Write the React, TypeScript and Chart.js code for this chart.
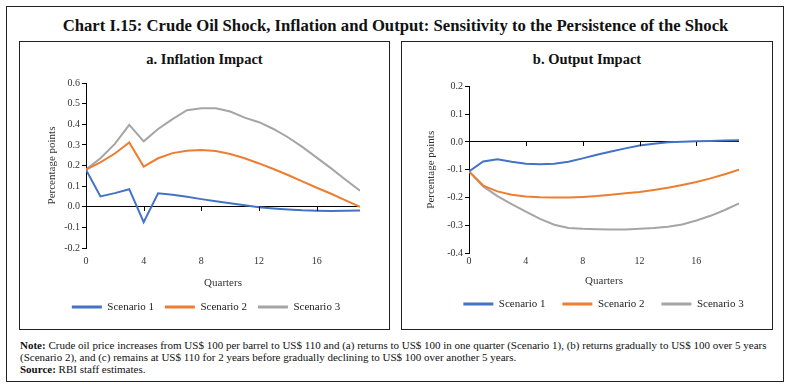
import React, { useEffect, useRef } from "react";
import { Chart, registerables } from "chart.js";

Chart.register(...registerables);

const quarters = [0, 1, 2, 3, 4, 5, 6, 7, 8, 9, 10, 11, 12, 13, 14, 15, 16, 17, 18, 19];
const seriesNames = ["Scenario 1", "Scenario 2", "Scenario 3"];
const seriesColors = ["#4472C4", "#ED7D31", "#A5A5A5"];
const xTickValues = [0, 4, 8, 12, 16];

const inflation1 = [0.18, 0.05, 0.066, 0.085, -0.075, 0.065, 0.058, 0.048, 0.037, 0.027, 0.017, 0.007, -0.002, -0.008, -0.013, -0.017, -0.019, -0.02, -0.019, -0.018];
const inflation2 = [0.18, 0.215, 0.258, 0.312, 0.195, 0.235, 0.26, 0.272, 0.275, 0.27, 0.256, 0.235, 0.21, 0.183, 0.154, 0.123, 0.092, 0.063, 0.031, 0.0];
const inflation3 = [0.18, 0.235, 0.305, 0.397, 0.317, 0.377, 0.425, 0.468, 0.477, 0.477, 0.462, 0.432, 0.41, 0.377, 0.337, 0.29, 0.238, 0.186, 0.131, 0.078];

const output1 = [-0.106, -0.07, -0.062, -0.071, -0.078, -0.08, -0.078, -0.071, -0.059, -0.046, -0.034, -0.023, -0.013, -0.006, -0.001, 0.001, 0.003, 0.004, 0.005, 0.006];
const output2 = [-0.106, -0.157, -0.178, -0.19, -0.196, -0.199, -0.2, -0.2, -0.198, -0.195, -0.19, -0.185, -0.18, -0.173, -0.165, -0.155, -0.144, -0.131, -0.116, -0.1];
const output3 = [-0.106, -0.16, -0.195, -0.224, -0.251, -0.277, -0.298, -0.31, -0.313, -0.314, -0.315, -0.315, -0.313, -0.31, -0.305, -0.297, -0.283, -0.266, -0.245, -0.221];

const FONT = "'Liberation Serif', 'DejaVu Serif', serif";

type Cfg = {
  series: number[][];
  yMin: number;
  yMax: number;
  yWidth: number;
  yTitlePad: number;
  xTickPad: number;
  xHeight: number;
  xTitlePadBottom: number;
  padTop: number;
  padRight: number;
  padBottom: number;
  legendPad: number;
  legendShift: number;
};

const zeroTicks = {
  id: "zeroTicks",
  afterDatasetsDraw(chart: any) {
    const { ctx, scales } = chart;
    const x = scales.x;
    const y = scales.y;
    const y0 = Math.round(y.getPixelForValue(0));
    ctx.save();
    ctx.strokeStyle = "#000";
    ctx.lineWidth = 1;
    for (const v of xTickValues) {
      if (v === 0) continue;
      const px = Math.round(x.getPixelForValue(v)) + 0.5;
      ctx.beginPath();
      ctx.moveTo(px, y0);
      ctx.lineTo(px, y0 + 4);
      ctx.stroke();
    }
    ctx.restore();
  },
};

const legendShift = {
  id: "legendShift",
  afterLayout(chart: any, _args: any, opts: any) {
    const dx = opts && opts.dx ? opts.dx : 0;
    if (chart.legend && dx) {
      chart.legend.left += dx;
      chart.legend.right += dx;
    }
  },
};

function LineChart({ cfg, style }: { cfg: Cfg; style: React.CSSProperties }) {
  const ref = useRef<HTMLCanvasElement>(null);
  useEffect(() => {
    const datasets = cfg.series.map((s, i) => ({
      label: seriesNames[i],
      data: quarters.map((q, j) => ({ x: q, y: s[j] })),
      borderColor: seriesColors[i],
      backgroundColor: seriesColors[i],
      borderWidth: 2,
      pointRadius: 0,
      tension: 0,
      fill: false,
    }));
    const chart = new Chart(ref.current!, {
      type: "line",
      data: { datasets },
      plugins: [zeroTicks, legendShift],
      options: {
        animation: false,
        responsive: false,
        maintainAspectRatio: false,
        layout: { padding: { top: cfg.padTop, right: cfg.padRight, bottom: cfg.padBottom, left: 0 } },
        plugins: {
          tooltip: { enabled: false },
          legendShift: { dx: cfg.legendShift },
          legend: {
            position: "bottom",
            labels: {
              boxWidth: 30,
              boxHeight: 3,
              padding: cfg.legendPad,
              color: "#222",
              font: { family: FONT, size: 11 },
              generateLabels: (c: any) =>
                Chart.defaults.plugins.legend.labels.generateLabels(c).map((l: any) => ({ ...l, lineWidth: 0 })),
            },
          },
        },
        scales: {
          x: {
            type: "linear",
            min: 0,
            max: 19,
            grid: { display: false, drawTicks: false },
            border: { display: false },
            afterBuildTicks: (scale: any) => {
              scale.ticks = xTickValues.map((v) => ({ value: v }));
            },
            afterFit: (scale: any) => {
              scale.height = cfg.xHeight;
            },
            ticks: {
              padding: cfg.xTickPad,
              maxRotation: 0,
              autoSkip: false,
              color: "#333",
              font: { family: FONT, size: 10 },
              callback: (v: any) => String(v),
            },
            title: {
              display: true,
              text: "Quarters",
              color: "#333",
              padding: { top: 0, bottom: cfg.xTitlePadBottom },
              font: { family: FONT, size: 11 },
            },
          },
          y: {
            min: cfg.yMin,
            max: cfg.yMax,
            afterFit: (scale: any) => {
              scale.width = cfg.yWidth;
            },
            grid: {
              color: (ctx: any) => (ctx.tick && Math.abs(ctx.tick.value) < 1e-9 ? "#000" : "rgba(0,0,0,0)"),
              tickColor: "#000",
              tickLength: 4,
              lineWidth: 1,
            },
            border: { display: true, color: "#000", width: 1 },
            ticks: {
              stepSize: 0.1,
              padding: 2,
              color: "#333",
              font: { family: FONT, size: 10 },
              callback: (v: any) => Number(v).toFixed(1),
            },
            title: {
              display: true,
              text: "Percentage points",
              color: "#333",
              padding: { top: cfg.yTitlePad, bottom: 0 },
              font: { family: FONT, size: 11 },
            },
          },
        },
      },
    } as any);
    return () => chart.destroy();
  }, []);
  return (
    <canvas
      ref={ref}
      width={style.width as number}
      height={style.height as number}
      style={{ position: "absolute", ...style }}
    />
  );
}

const leftCfg: Cfg = {
  series: [inflation1, inflation2, inflation3],
  yMin: -0.2,
  yMax: 0.6,
  yWidth: 65,
  yTitlePad: 24.1,
  xTickPad: 7,
  xHeight: 42.7,
  xTitlePadBottom: 1.1,
  padTop: 19,
  padRight: 27,
  padBottom: 4.5,
  legendPad: 10.8,
  legendShift: 15.5,
};

const rightCfg: Cfg = {
  series: [output1, output2, output3],
  yMin: -0.4,
  yMax: 0.2,
  yWidth: 66,
  yTitlePad: 21.4,
  xTickPad: 2,
  xHeight: 28.7,
  xTitlePadBottom: -5.9,
  padTop: 22.5,
  padRight: 32,
  padBottom: 7.5,
  legendPad: 16.8,
  legendShift: 32.5,
};

const box: React.CSSProperties = { position: "absolute", border: "1.5px solid #222", boxSizing: "border-box" };

export default function App() {
  return (
    <div style={{ position: "fixed", left: 0, top: 0, width: 791, height: 388, background: "#fff", fontFamily: FONT }}>
      <div style={{ ...box, left: 6, top: 6, width: 778, height: 376 }} />
      <div
        style={{
          position: "absolute", left: 0, width: 791, top: 16, textAlign: "center",
          fontWeight: "bold", fontSize: 16.7, lineHeight: "20px", color: "#111",
        }}
      >
        Chart I.15: Crude Oil Shock, Inflation and Output: Sensitivity to the Persistence of the Shock
      </div>
      <div style={{ ...box, left: 19, top: 41, width: 371, height: 289 }} />
      <div style={{ ...box, left: 401, top: 41, width: 372, height: 289 }} />
      <div style={{ position: "absolute", left: 19, width: 371, top: 50, textAlign: "center", fontWeight: "bold", fontSize: 14.5, lineHeight: "18px", color: "#111" }}>
        a. Inflation Impact
      </div>
      <div style={{ position: "absolute", left: 401, width: 372, top: 50, textAlign: "center", fontWeight: "bold", fontSize: 14.5, lineHeight: "18px", color: "#111" }}>
        b. Output Impact
      </div>
      <LineChart cfg={leftCfg} style={{ left: 21, top: 64, width: 366, height: 263 }} />
      <LineChart cfg={rightCfg} style={{ left: 403, top: 64, width: 368, height: 263 }} />
      <div style={{ position: "absolute", left: 20, top: 339, width: 765, fontSize: 11, lineHeight: "12px", color: "#111" }}>
        <b>Note:</b> Crude oil price increases from US$ 100 per barrel to US$ 110 and (a) returns to US$ 100 in one quarter (Scenario 1), (b) returns gradually to US$ 100 over 5 years (Scenario 2), and (c) remains at US$ 110 for 2 years before gradually declining to US$ 100 over another 5 years.
      </div>
      <div style={{ position: "absolute", left: 20, top: 363, fontSize: 11, lineHeight: "12px", color: "#111" }}>
        <b>Source:</b> RBI staff estimates.
      </div>
    </div>
  );
}
